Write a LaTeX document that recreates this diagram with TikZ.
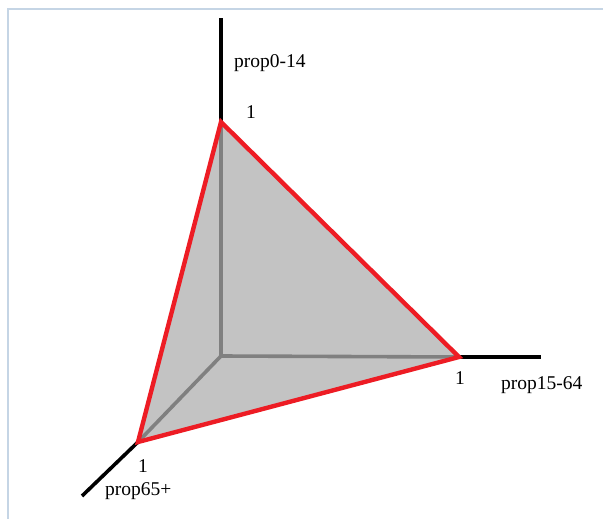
\documentclass[tikz,border=0pt]{standalone}
\usepackage{fontspec}
\setmainfont{Liberation Serif}
\usetikzlibrary{positioning}
\definecolor{TRed}{HTML}{ED1C24}
\definecolor{TFill}{HTML}{C3C3C3}
\definecolor{TGrey}{HTML}{808080}
\definecolor{TFrame}{HTML}{C5D5E5}

\begin{document}
\begin{tikzpicture}[
  x=1pt,y=-1pt,
  frame/.style={draw=TFrame,line width=1.2pt},
  axis/.style={line width=3.6pt,black},
  inner/.style={line width=3.6pt,TGrey},
  edge/.style={line width=4.4pt,TRed,line join=miter},
  lab/.style={font=\fontsize{19.5}{22}\selectfont,inner sep=0pt,anchor=base west}
]
  \useasboundingbox (0,0) rectangle (603,519);
  \draw[frame] (8,519) -- (8,9) -- (603,9);

  % corners of the simplex and the axes
  \coordinate (o) at (221,356);
  \coordinate (a) at (221,122);
  \coordinate (b) at (459,357);
  \coordinate (c) at (138,442);
  \coordinate (aend) at (221,18);
  \coordinate (bend) at (541,357);
  \coordinate (cend) at (82,496);

  \fill[TFill] (a) -- (b) -- (c) -- cycle;
  \draw[inner] (o) -- (a);
  \draw[inner] (o) -- (b);
  \draw[inner] (o) -- (c);
  \draw[axis] (a) -- (aend);
  \draw[axis] (b) -- (bend);
  \draw[axis] (c) -- (cend);
  \draw[edge] (a) -- (b) -- (c) -- cycle;

  \node[lab] (ta) at (234,68) {prop0-14};
  \node[lab] (tb) at (501,389) {prop15-64};
  \node[lab] (tc) at (105,495) {prop65+};
  \node[lab] (oa) at (246,118) {1};
  \node[lab] (ob) at (455,384) {1};
  \node[lab] (oc) at (138,472) {1};
\end{tikzpicture}
\end{document}
